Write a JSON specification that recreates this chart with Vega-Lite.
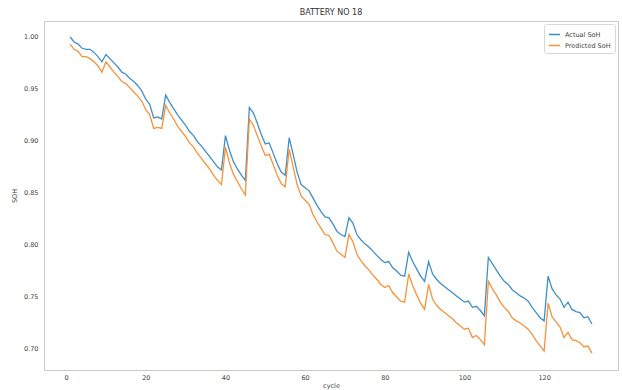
{
  "$schema": "https://vega.github.io/schema/vega-lite/v6.json",
  "width": 574,
  "height": 349,
  "autosize": "none",
  "padding": {"left": 44, "top": 21, "right": 4, "bottom": 20},
  "background": "white",
  "config": {
    "font": "DejaVu Sans",
    "view": {"stroke": "#c8c8c8", "strokeWidth": 1},
    "axis": {"grid": false, "ticks": false, "domain": false, "labelFontSize": 6.5, "labelColor": "#444", "titleFontSize": 6.5, "titleColor": "#444", "titleFontWeight": "normal"}
  },
  "title": {"text": "BATTERY NO 18", "fontSize": 8, "fontWeight": "normal", "color": "#333", "offset": 4, "anchor": "middle"},
  "data": {"values": [
    {"cycle":1,"a":1.000,"p":0.993},{"cycle":2,"a":0.995,"p":0.988},{"cycle":3,"a":0.993,"p":0.986},{"cycle":4,"a":0.989,"p":0.981},{"cycle":5,"a":0.988,"p":0.981},
    {"cycle":6,"a":0.988,"p":0.979},{"cycle":7,"a":0.985,"p":0.976},{"cycle":8,"a":0.981,"p":0.972},{"cycle":9,"a":0.976,"p":0.966},{"cycle":10,"a":0.983,"p":0.976},
    {"cycle":11,"a":0.979,"p":0.971},{"cycle":12,"a":0.975,"p":0.966},{"cycle":13,"a":0.971,"p":0.962},{"cycle":14,"a":0.966,"p":0.957},{"cycle":15,"a":0.964,"p":0.955},
    {"cycle":16,"a":0.960,"p":0.951},{"cycle":17,"a":0.957,"p":0.947},{"cycle":18,"a":0.953,"p":0.943},{"cycle":19,"a":0.948,"p":0.938},{"cycle":20,"a":0.940,"p":0.930},
    {"cycle":21,"a":0.935,"p":0.925},{"cycle":22,"a":0.922,"p":0.912},{"cycle":23,"a":0.923,"p":0.913},{"cycle":24,"a":0.921,"p":0.912},{"cycle":25,"a":0.944,"p":0.934},
    {"cycle":26,"a":0.937,"p":0.927},{"cycle":27,"a":0.931,"p":0.921},{"cycle":28,"a":0.925,"p":0.914},{"cycle":29,"a":0.920,"p":0.909},{"cycle":30,"a":0.915,"p":0.904},
    {"cycle":31,"a":0.909,"p":0.898},{"cycle":32,"a":0.905,"p":0.894},{"cycle":33,"a":0.899,"p":0.888},{"cycle":34,"a":0.895,"p":0.883},{"cycle":35,"a":0.890,"p":0.878},
    {"cycle":36,"a":0.885,"p":0.873},{"cycle":37,"a":0.880,"p":0.867},{"cycle":38,"a":0.875,"p":0.862},{"cycle":39,"a":0.872,"p":0.858},{"cycle":40,"a":0.905,"p":0.894},
    {"cycle":41,"a":0.891,"p":0.879},{"cycle":42,"a":0.880,"p":0.868},{"cycle":43,"a":0.873,"p":0.861},{"cycle":44,"a":0.867,"p":0.854},{"cycle":45,"a":0.862,"p":0.848},
    {"cycle":46,"a":0.932,"p":0.921},{"cycle":47,"a":0.927,"p":0.915},{"cycle":48,"a":0.917,"p":0.905},{"cycle":49,"a":0.906,"p":0.895},{"cycle":50,"a":0.897,"p":0.886},
    {"cycle":51,"a":0.898,"p":0.887},{"cycle":52,"a":0.888,"p":0.877},{"cycle":53,"a":0.878,"p":0.867},{"cycle":54,"a":0.870,"p":0.859},{"cycle":55,"a":0.867,"p":0.856},
    {"cycle":56,"a":0.903,"p":0.892},{"cycle":57,"a":0.887,"p":0.875},{"cycle":58,"a":0.870,"p":0.858},{"cycle":59,"a":0.858,"p":0.847},{"cycle":60,"a":0.855,"p":0.843},
    {"cycle":61,"a":0.852,"p":0.839},{"cycle":62,"a":0.845,"p":0.829},{"cycle":63,"a":0.838,"p":0.822},{"cycle":64,"a":0.832,"p":0.816},{"cycle":65,"a":0.827,"p":0.810},
    {"cycle":66,"a":0.826,"p":0.809},{"cycle":67,"a":0.820,"p":0.802},{"cycle":68,"a":0.813,"p":0.794},{"cycle":69,"a":0.810,"p":0.791},{"cycle":70,"a":0.808,"p":0.788},
    {"cycle":71,"a":0.826,"p":0.810},{"cycle":72,"a":0.821,"p":0.803},{"cycle":73,"a":0.810,"p":0.791},{"cycle":74,"a":0.805,"p":0.785},{"cycle":75,"a":0.801,"p":0.780},
    {"cycle":76,"a":0.798,"p":0.776},{"cycle":77,"a":0.794,"p":0.771},{"cycle":78,"a":0.790,"p":0.767},{"cycle":79,"a":0.786,"p":0.762},{"cycle":80,"a":0.783,"p":0.759},
    {"cycle":81,"a":0.784,"p":0.761},{"cycle":82,"a":0.778,"p":0.754},{"cycle":83,"a":0.775,"p":0.750},{"cycle":84,"a":0.771,"p":0.746},{"cycle":85,"a":0.770,"p":0.745},
    {"cycle":86,"a":0.793,"p":0.772},{"cycle":87,"a":0.784,"p":0.761},{"cycle":88,"a":0.777,"p":0.752},{"cycle":89,"a":0.770,"p":0.744},{"cycle":90,"a":0.765,"p":0.738},
    {"cycle":91,"a":0.784,"p":0.762},{"cycle":92,"a":0.772,"p":0.748},{"cycle":93,"a":0.767,"p":0.742},{"cycle":94,"a":0.763,"p":0.738},{"cycle":95,"a":0.760,"p":0.735},
    {"cycle":96,"a":0.757,"p":0.732},{"cycle":97,"a":0.754,"p":0.729},{"cycle":98,"a":0.751,"p":0.725},{"cycle":99,"a":0.748,"p":0.722},{"cycle":100,"a":0.745,"p":0.719},
    {"cycle":101,"a":0.746,"p":0.720},{"cycle":102,"a":0.740,"p":0.711},{"cycle":103,"a":0.741,"p":0.713},{"cycle":104,"a":0.737,"p":0.709},{"cycle":105,"a":0.732,"p":0.704},
    {"cycle":106,"a":0.788,"p":0.765},{"cycle":107,"a":0.782,"p":0.758},{"cycle":108,"a":0.776,"p":0.752},{"cycle":109,"a":0.770,"p":0.745},{"cycle":110,"a":0.765,"p":0.740},
    {"cycle":111,"a":0.762,"p":0.736},{"cycle":112,"a":0.757,"p":0.730},{"cycle":113,"a":0.754,"p":0.727},{"cycle":114,"a":0.751,"p":0.725},{"cycle":115,"a":0.749,"p":0.722},
    {"cycle":116,"a":0.746,"p":0.719},{"cycle":117,"a":0.740,"p":0.714},{"cycle":118,"a":0.735,"p":0.708},{"cycle":119,"a":0.730,"p":0.703},{"cycle":120,"a":0.727,"p":0.698},
    {"cycle":121,"a":0.770,"p":0.744},{"cycle":122,"a":0.758,"p":0.731},{"cycle":123,"a":0.752,"p":0.726},{"cycle":124,"a":0.748,"p":0.721},{"cycle":125,"a":0.740,"p":0.711},
    {"cycle":126,"a":0.745,"p":0.716},{"cycle":127,"a":0.738,"p":0.709},{"cycle":128,"a":0.736,"p":0.708},{"cycle":129,"a":0.735,"p":0.706},{"cycle":130,"a":0.730,"p":0.702},
    {"cycle":131,"a":0.731,"p":0.703},{"cycle":132,"a":0.724,"p":0.696}
  ]},
  "transform": [
    {"fold": ["a", "p"], "as": ["key", "soh"]},
    {"lookup": "key", "from": {"data": {"values": [{"key": "a", "series": "Actual SoH"}, {"key": "p", "series": "Predicted SoH"}]}, "key": "key", "fields": ["series"]}}
  ],
  "mark": {"type": "line", "strokeWidth": 1.3, "clip": true},
  "encoding": {
    "x": {"field": "cycle", "type": "quantitative", "title": "cycle",
      "scale": {"domain": [-5.55, 138.55], "nice": false, "zero": false},
      "axis": {"values": [0, 20, 40, 60, 80, 100, 120], "labelPadding": 4, "titlePadding": 2}},
    "y": {"field": "soh", "type": "quantitative", "title": "SOH",
      "scale": {"domain": [0.6798, 1.0152], "nice": false, "zero": false},
      "axis": {"values": [0.70, 0.75, 0.80, 0.85, 0.90, 0.95, 1.00], "format": ".2f", "labelPadding": 6, "titlePadding": 6}},
    "color": {"field": "series", "type": "nominal",
      "scale": {"domain": ["Actual SoH", "Predicted SoH"], "range": ["#3f8fc9", "#f7923a"]},
      "legend": {"title": null, "orient": "top-right", "offset": 3, "symbolType": "stroke", "symbolSize": 120, "symbolStrokeWidth": 1.5, "labelFontSize": 6.5, "labelColor": "#444", "fillColor": "white", "strokeColor": "#d8d8d8", "padding": 4, "rowPadding": 1, "cornerRadius": 2}}
  }
}
